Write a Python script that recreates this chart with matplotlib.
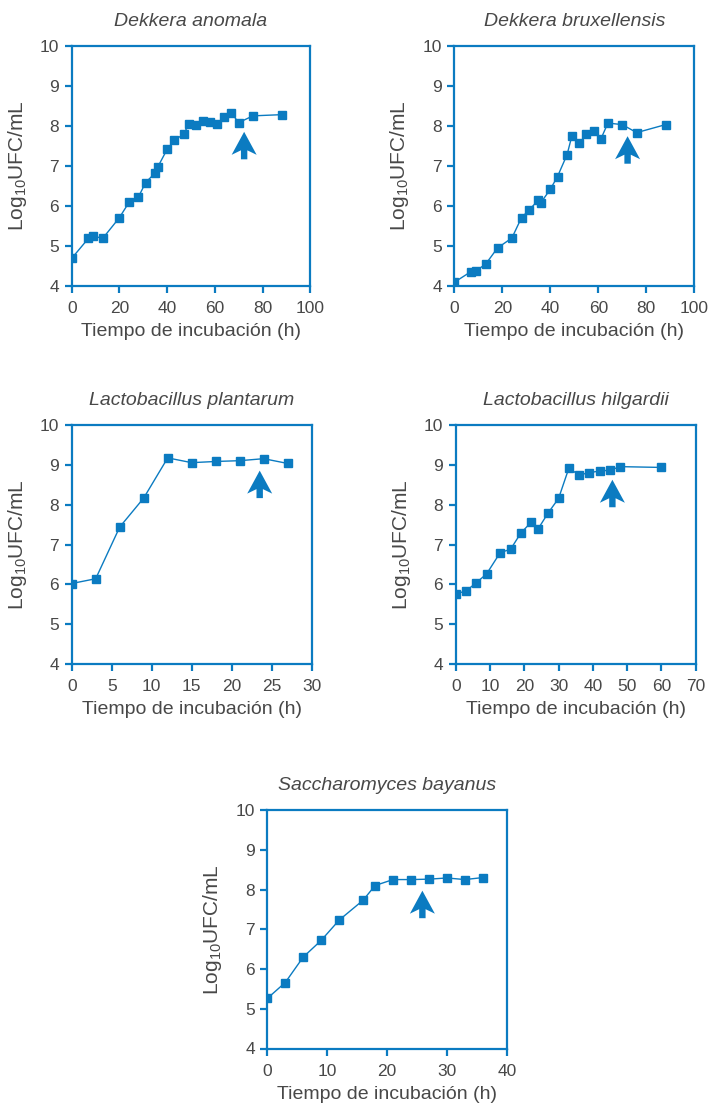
import matplotlib
matplotlib.use("Agg")
import matplotlib.pyplot as plt
from matplotlib.patches import Polygon
from matplotlib import transforms

plt.rcParams['font.family'] = ['Liberation Sans', 'DejaVu Sans']
plt.rcParams['mathtext.default'] = 'regular'

blue = '#0b7bc1'
grey = '#484848'

# Dekkera anomala
t_anom = [0, 7, 9, 13, 20, 24, 28, 31, 35, 36, 40, 43, 47, 49, 52, 55, 58, 61, 64, 67, 70, 76, 88]
y_anom = [4.68, 5.18, 5.24, 5.18, 5.70, 6.08, 6.22, 6.58, 6.82, 6.96, 7.41, 7.64, 7.79, 8.04,
          8.01, 8.13, 8.09, 8.05, 8.21, 8.32, 8.08, 8.25, 8.28]

# Dekkera bruxellensis
t_brux = [0, 7, 9, 13, 18, 24, 28, 31, 35, 36, 40, 43, 47, 49, 52, 55, 58, 61, 64, 70, 76, 88]
y_brux = [4.08, 4.35, 4.37, 4.53, 4.94, 5.19, 5.70, 5.88, 6.14, 6.07, 6.41, 6.73, 7.28, 7.75,
          7.56, 7.79, 7.87, 7.66, 8.07, 8.03, 7.83, 8.03]

# Lactobacillus plantarum
t_plan = [0, 3, 6, 9, 12, 15, 18, 21, 24, 27]
y_plan = [6.02, 6.14, 7.44, 8.17, 9.18, 9.06, 9.09, 9.11, 9.16, 9.04]

# Lactobacillus hilgardii
t_hilg = [0, 3, 6, 9, 13, 16, 19, 22, 24, 27, 30, 33, 36, 39, 42, 45, 48, 60]
y_hilg = [5.76, 5.83, 6.04, 6.26, 6.80, 6.88, 7.29, 7.56, 7.39, 7.80, 8.16, 8.92, 8.75, 8.81,
          8.85, 8.87, 8.96, 8.94]

# Saccharomyces bayanus
t_bay = [0, 3, 6, 9, 12, 16, 18, 21, 24, 27, 30, 33, 36]
y_bay = [5.26, 5.66, 6.30, 6.72, 7.23, 7.73, 8.10, 8.25, 8.25, 8.26, 8.29, 8.25, 8.30]

titles = ['Dekkera anomala', 'Dekkera bruxellensis', 'Lactobacillus plantarum',
          'Lactobacillus hilgardii', 'Saccharomyces bayanus']
series = [(t_anom, y_anom), (t_brux, y_brux), (t_plan, y_plan), (t_hilg, y_hilg), (t_bay, y_bay)]
xmax = [100, 100, 30, 70, 40]
xstep = [20, 20, 5, 10, 10]
# arrow position (x, tip y)
arrows = [(72.3, 7.85), (72.2, 7.74), (23.5, 8.86), (45.7, 8.63), (25.9, 7.97)]

W, H = 712, 1107
boxes = [(71.7, 46, 238.5, 239.5), (454.3, 46, 240, 239.5), (71.7, 425.3, 240, 238.5),
         (455.7, 425.3, 240, 238.5), (267.3, 810, 239.5, 238.5)]

fig = plt.figure(figsize=(W / 100, H / 100), dpi=100)

# arrow outline in inches, tip at origin
arrow_shape = [(0, 0), (0.125, -0.23), (0.032, -0.185), (0.032, -0.275),
               (-0.032, -0.275), (-0.032, -0.185), (-0.125, -0.23)]

for i in range(5):
    l, t, w, h = boxes[i]
    ax = fig.add_axes([l / W, 1 - (t + h) / H, w / W, h / H])
    x, y = series[i]
    ax.plot(x, y, color=blue, lw=1.0, marker='s', ms=6.3, mec=blue, mfc=blue)
    ax.set_xlim(0, xmax[i])
    ax.set_ylim(4, 10)
    ax.set_xticks(range(0, xmax[i] + 1, xstep[i]))
    ax.set_yticks(range(4, 11))
    for s in ax.spines.values():
        s.set_color(blue)
        s.set_linewidth(1.6)
    ax.tick_params(direction='out', length=5, width=1.6, color=blue, labelcolor=grey,
                   labelsize=12.5)
    ax.tick_params(axis='x', pad=6)
    ax.tick_params(axis='y', pad=4)
    ax.set_title(titles[i], fontsize=14, style='italic', color=grey, pad=14.5)
    ax.set_xlabel('Tiempo de incubación (h)', fontsize=14, color=grey, labelpad=5)
    ax.set_ylabel(r'Log$_{10}$UFC/mL', fontsize=15, color=grey, labelpad=8)

    ax_x, ax_y = arrows[i]
    trans = fig.dpi_scale_trans + transforms.ScaledTranslation(ax_x, ax_y, ax.transData)
    ax.add_patch(Polygon(arrow_shape, closed=True, transform=trans, color=blue, lw=0))

fig.savefig('out.png', dpi=100)
